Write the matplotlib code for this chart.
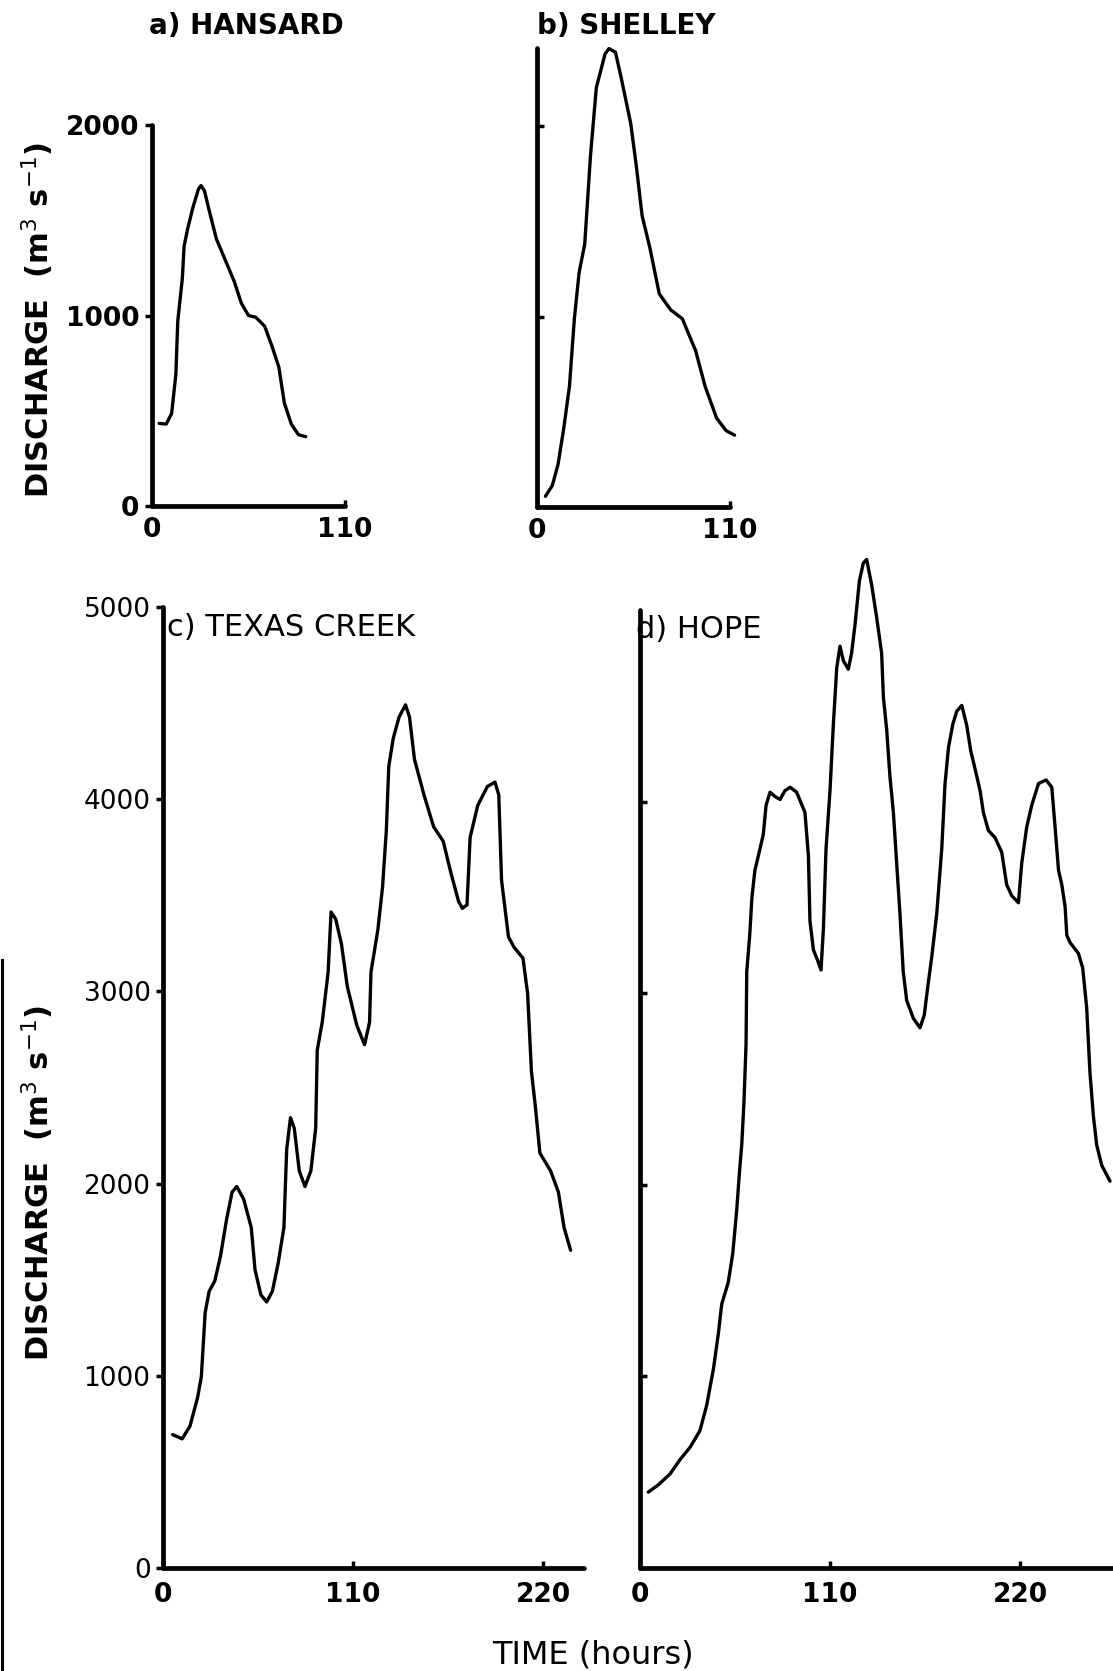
## Flood hydrographs for four Fraser River gauges

import matplotlib
matplotlib.use("Agg")
import matplotlib.pyplot as plt
from matplotlib.lines import Line2D

W, H = 1113, 1671
DPI = 100

# hours from start of record, discharge in m3/s
hansard_t = [4.1, 8.1, 11.2, 13.6, 14.7, 17.3, 18.3, 20.4, 23.4, 26.5, 27.9, 29.9,
             32.6, 36.7, 41.8, 46.9, 50.9, 55.0, 59.1, 64.2, 68.3, 72.3, 75.4,
             79.4, 83.5, 87.6]
hansard_q = [434, 430, 486, 692, 972, 1196, 1364, 1458, 1570, 1664, 1682, 1654,
             1551, 1402, 1290, 1178, 1065, 1000, 991, 944, 841, 729, 542,
             430, 374, 364]

shelley_t = [4.8, 8.7, 12.0, 15.2, 18.5, 21.3, 24.0, 27.2, 30.5, 33.8, 35.9, 38.8,
             41.0, 44.7, 47.9, 53.4, 56.6, 59.9, 64.3, 69.7, 76.2, 82.8, 90.4,
             95.8, 102.4, 107.8, 112.6]
shelley_q = [56, 112, 224, 410, 634, 989, 1231, 1380, 1847, 2201, 2276, 2379,
             2407, 2388, 2257, 2015, 1791, 1530, 1362, 1119, 1035, 989, 821,
             634, 466, 401, 377]

texas_t = [5.6, 11.1, 15.6, 20.0, 22.2, 24.4, 26.7, 30.0, 33.3, 36.7, 40.0, 42.7,
           46.7, 51.1, 53.3, 56.7, 60.0, 63.3, 66.7, 70.0, 71.6, 73.8, 76.0, 78.9,
           82.2, 85.6, 88.4, 89.3, 92.2, 95.6, 97.3, 100.0, 103.3, 106.7, 112.2,
           116.7, 119.6, 120.4, 124.4, 127.1, 129.3, 130.7, 133.3, 136.7, 140.4,
           142.7, 145.6, 151.1, 156.7, 162.2, 166.7, 171.1, 173.3, 176.0, 177.8,
           182.2, 187.8, 192.2, 194.4, 196.0, 200.0, 203.3, 208.4, 211.1, 213.3,
           215.6, 218.2, 224.4, 228.9, 232.2, 236.0]
texas_q = [694, 672, 738, 886, 996, 1328, 1439, 1494, 1624, 1808, 1956, 1985,
           1919, 1771, 1550, 1421, 1384, 1439, 1587, 1771, 2177, 2343, 2288, 2066,
           1985, 2066, 2288, 2694, 2841, 3100, 3413, 3376, 3247, 3026, 2823,
           2723, 2841, 3100, 3321, 3542, 3838, 4170, 4317, 4428, 4491,
           4428, 4207, 4022, 3856, 3782, 3616, 3469, 3432, 3450, 3801,
           3967, 4066, 4089, 4022, 3579, 3284, 3229, 3173, 2989, 2583,
           2399, 2159, 2066, 1956, 1771, 1653]

hope_t = [4.8, 10.6, 17.4, 23.2, 29.0, 34.7, 38.6, 42.5, 45.4, 47.3, 51.1, 53.7,
          56.0, 57.5, 58.9, 60.2, 61.4, 61.8, 63.5, 64.8, 66.5, 69.5, 71.4, 73.0,
          75.3, 78.2, 81.1, 83.9, 86.9, 90.7, 95.5, 97.5, 98.4, 100.4, 102.9,
          104.8, 106.2, 107.7, 110.0, 111.9, 113.9, 115.8, 117.7, 120.6, 122.5,
          124.5, 127.0, 129.3, 131.2, 134.1, 137.0, 139.9, 140.9, 142.8, 144.7,
          146.7, 148.6, 150.5, 152.4, 154.4, 158.3, 162.1, 164.6, 166.4, 168.9,
          171.8, 174.7, 176.6, 178.6, 181.1, 183.4, 186.3, 189.2, 191.5, 194.0,
          196.9, 198.8, 201.7, 205.6, 209.4, 212.3, 215.2, 219.1, 221.0, 223.9,
          226.8, 230.7, 235.1, 238.4, 240.3, 242.3, 244.2, 246.1, 247.1, 249.0,
          253.8, 256.3, 258.6, 260.5, 262.5, 264.4, 267.3, 272.1]
hope_q = [396, 434, 491, 566, 630, 717, 849, 1038, 1226, 1377, 1491, 1642,
          1868, 2057, 2208, 2434, 2736, 3113, 3300, 3500, 3640, 3755, 3830, 3981,
          4049, 4026, 4011, 4057, 4075, 4049, 3943, 3717, 3377, 3226, 3170,
          3121, 3340, 3755, 4057, 4396, 4698, 4811, 4736, 4691, 4774,
          4925, 5151, 5245, 5264, 5132, 4962, 4774, 4547, 4377, 4132,
          3943, 3679, 3415, 3113, 2962, 2868, 2819, 2887, 3019, 3189,
          3415, 3755, 4094, 4283, 4404, 4472, 4502, 4396, 4264, 4170,
          4057, 3943, 3849, 3811, 3736, 3566, 3509, 3472, 3679, 3868,
          3981, 4094, 4113, 4075, 3868, 3642, 3566, 3453, 3302, 3264,
          3208, 3132, 2925, 2585, 2358, 2208, 2102, 2019]

titles = ["a) HANSARD", "b) SHELLEY", "c) TEXAS CREEK", "d) HOPE"]
ylabel = "DISCHARGE  (m$^3$ s$^{-1}$)"
xlabel = "TIME (hours)"

plt.rcParams['font.family'] = ['DejaVu Sans']

fig = plt.figure(figsize=(W / DPI, H / DPI), dpi=DPI)
fig.patch.set_facecolor('white')


def axes_px(x0, ybot, x1, ytop):
    # axes rectangle given in pixels from the top-left corner
    return fig.add_axes([x0 / W, 1 - ybot / H, (x1 - x0) / W, (ybot - ytop) / H])


def style(ax):
    ax.patch.set_visible(False)
    for s in ('top', 'right'):
        ax.spines[s].set_visible(False)
    for s in ('left', 'bottom'):
        ax.spines[s].set_linewidth(3.4)
        ax.spines[s].set_capstyle('round')
        ax.spines[s].set_clip_on(False)


def curve(ax, t, q):
    ax.plot(t, q, color='black', lw=2.4, solid_joinstyle='round',
            solid_capstyle='round', clip_on=False)


# a) Hansard
ax = axes_px(152, 506, 345, 125)
style(ax)
curve(ax, hansard_t, hansard_q)
ax.set_xlim(0, 110)
ax.set_ylim(0, 2000)
ax.set_yticks([0, 1000, 2000], ['0', '1000', '2000'])
ax.set_xticks([0, 110], ['0', '110'])
ax.tick_params(axis='y', direction='out', length=5, width=2.5, pad=4,
               labelsize=19)
ax.tick_params(axis='x', direction='in', length=4, width=2.5, pad=8,
               labelsize=19)
for lab in ax.get_xticklabels() + ax.get_yticklabels():
    lab.set_fontweight('bold')

# b) Shelley, same discharge scale as Hansard
ax = axes_px(537, 507, 730, 48)
style(ax)
curve(ax, shelley_t, shelley_q)
ax.set_xlim(0, 110)
ax.set_ylim(0, 2410)
ax.set_yticks([1000, 2000], ['', ''])
ax.set_xticks([0, 110], ['0', '110'])
ax.tick_params(axis='y', direction='in', length=5, width=2.5)
ax.tick_params(axis='x', direction='in', length=4, width=2.5, pad=8,
               labelsize=19)
for lab in ax.get_xticklabels():
    lab.set_fontweight('bold')

# c) Texas Creek
ax = axes_px(163, 1568, 584, 607)
style(ax)
curve(ax, texas_t, texas_q)
ax.set_xlim(0, 220 * (584 - 163) / (543 - 163))
ax.set_ylim(0, 5000)
ax.set_yticks([0, 1000, 2000, 3000, 4000, 5000],
              ['0', '1000', '2000', '3000', '4000', '5000'])
ax.set_xticks([0, 110, 220], ['0', '110', '220'])
ax.tick_params(axis='y', direction='out', length=5, width=2.5, pad=4,
               labelsize=19)
ax.tick_params(axis='x', direction='in', length=5, width=2.5, pad=10,
               labelsize=19)
for lab in ax.get_xticklabels():
    lab.set_fontweight('bold')

# d) Hope, runs off the right edge of the sheet
ax = axes_px(640, 1568, 1200, 610)
style(ax)
curve(ax, hope_t, hope_q)
ax.set_xlim(0, 220 * (1200 - 640) / (1020 - 640))
ax.set_ylim(0, 5000)
ax.set_yticks([1000, 2000, 3000, 4000], ['', '', '', ''])
ax.set_xticks([0, 110, 220], ['0', '110', '220'])
ax.tick_params(axis='y', direction='in', length=5, width=2.5)
ax.tick_params(axis='x', direction='in', length=5, width=2.5, pad=10,
               labelsize=19)
for lab in ax.get_xticklabels():
    lab.set_fontweight('bold')

# panel titles
fig.text(149 / W, 1 - 26 / H, titles[0], fontsize=20, fontweight='bold',
         ha='left', va='center')
fig.text(537 / W, 1 - 26 / H, titles[1], fontsize=20, fontweight='bold',
         ha='left', va='center')
fig.text(167 / W, 1 - 627 / H, titles[2], fontsize=22,
         ha='left', va='center')
fig.text(636 / W, 1 - 629 / H, titles[3], fontsize=22,
         ha='left', va='center')

# shared axis labels
fig.text(38 / W, 1 - 320 / H, ylabel, fontsize=22, fontweight='bold',
         rotation=90, ha='center', va='center')
fig.text(38 / W, 1 - 1183 / H, ylabel, fontsize=22, fontweight='bold',
         rotation=90, ha='center', va='center')
fig.text(593 / W, 1 - 1655 / H, xlabel, fontsize=23, ha='center', va='center')

# dark edge along the lower left of the sheet
fig.add_artist(Line2D([1.5 / W, 1.5 / W], [0, 1 - 960 / H], color='black',
                      lw=2.2))

fig.savefig("out.png", dpi=DPI)
